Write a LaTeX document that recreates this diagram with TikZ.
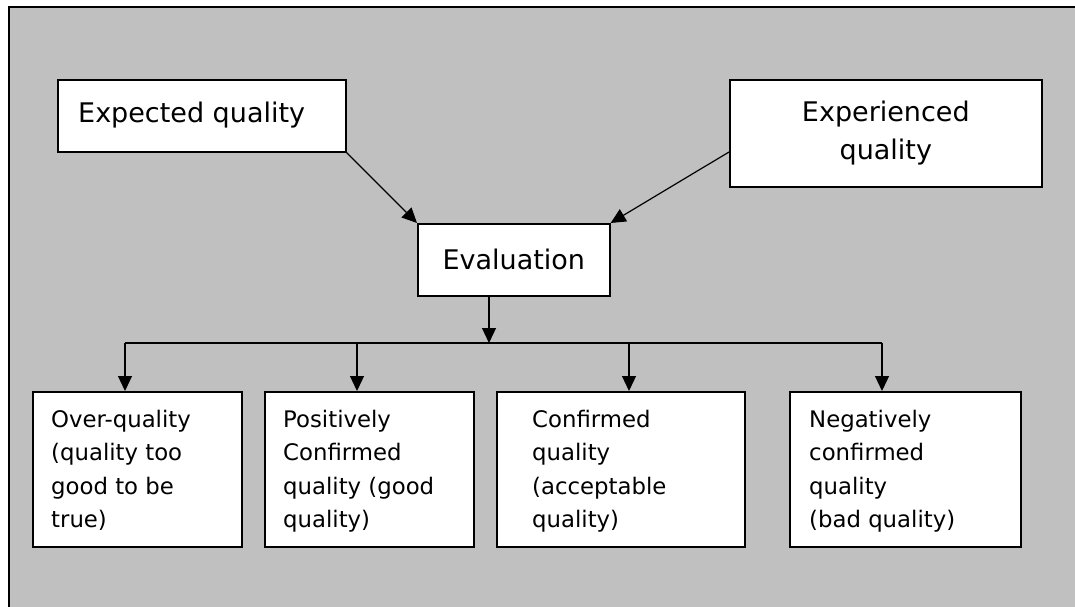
\documentclass[tikz,border=0pt]{standalone}
\usepackage{fontspec}
\setmainfont{DejaVu Sans}
\usetikzlibrary{arrows.meta,shapes}
\usetikzlibrary{positioning}
\definecolor{fg}{rgb}{0,0,0}
\definecolor{bg}{RGB}{192,192,192}
\tikzstyle{box}=[draw=fg, line width=1.6pt, fill=white, anchor=north west,
inner sep=0pt, text=fg, font=\fontsize{27}{38}\selectfont]
\tikzstyle{label}=[anchor=north west, inner sep=0pt, align=left, text=fg,
font=\fontsize{22.8}{33.3}\selectfont]
\tikzstyle{myarrow}=[-{Triangle[length=15pt, width=14pt]}, line width=1.2pt]
\tikzstyle{myline}=[line width=1.2pt]

\begin{document}
\begin{tikzpicture}[x=1pt, y=-1pt]
    \useasboundingbox (0, 0) rectangle (1075, 607) ;
    \fill[bg] (9, 7) rectangle (1080, 612) ;
    \draw[line width=1.6pt] (9, 612) -- (9, 7) -- (1080, 7) ;

    \node[box, minimum width=288pt, minimum height=72pt] (A) at (57, 79) {} ;
    \node[anchor=west, inner sep=0pt, font=\fontsize{27}{38}\selectfont] (Atxt)
        at (78, 115) {Expected quality} ;
    \node[box, minimum width=312pt, minimum height=107pt, align=center] (B)
        at (729, 79) {Experienced\\quality} ;
    \node[box, minimum width=192pt, minimum height=72pt] (C) at (417, 223)
        {Evaluation} ;

    \node[box, minimum width=209pt, minimum height=155pt] (D1) at (32, 391) {} ;
    \node[box, minimum width=209pt, minimum height=155pt] (D2) at (264, 391) {} ;
    \node[box, minimum width=248pt, minimum height=155pt] (D3) at (496, 391) {} ;
    \node[box, minimum width=231pt, minimum height=155pt] (D4) at (789, 391) {} ;

    \node[label] (T1) at (51, 410) {Over-quality\\(quality too\\good to be\\true)} ;
    \node[label] (T2) at (283, 410) {Positively\\Confirmed\\quality (good\\quality)} ;
    \node[label] (T3) at (532, 410) {Confirmed\\quality\\(acceptable\\quality)} ;
    \node[label] (T4) at (809, 410) {Negatively\\confirmed\\quality\\(bad quality)} ;

    \coordinate (J) at (489, 343) ;
    \coordinate (J1) at (125, 343) ;
    \coordinate (J4) at (882, 343) ;

    \draw[myarrow] (A.south east) -- (C.north west) ;
    \draw[myarrow] (B.west |- 0, 152) -- (C.north east) ;
    \draw[myarrow] (C.south -| J) -- (J) ;
    \draw[myline] (J1) -- (J4) ;
    \draw[myarrow] (J1) -- (J1 |- D1.north) ;
    \draw[myarrow] (357, 343) -- (357, 391) ;
    \draw[myarrow] (629, 343) -- (629, 391) ;
    \draw[myarrow] (J4) -- (J4 |- D4.north) ;
\end{tikzpicture}
\end{document}
